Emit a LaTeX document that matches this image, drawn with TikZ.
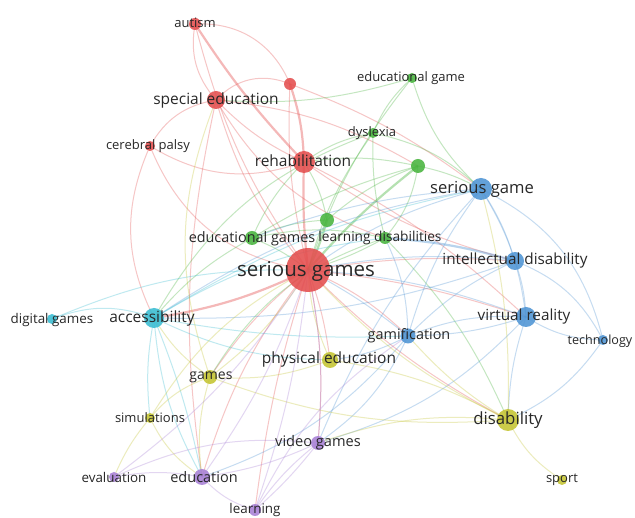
\documentclass[tikz,border=0pt]{standalone}
\usepackage{fontspec}
\setmainfont{Open Sans}
\definecolor{cred}{RGB}{228,78,78}
\definecolor{cgreen}{RGB}{72,180,62}
\definecolor{cblue}{RGB}{78,148,212}
\definecolor{ccyan}{RGB}{56,188,210}
\definecolor{cyel}{RGB}{196,196,50}
\definecolor{cpur}{RGB}{168,128,214}
\definecolor{labc}{RGB}{40,40,40}
\tikzset{
  lnk/.style={line width=1pt, draw opacity=0.32, draw=#1},
  thk/.style={line width=2.2pt, draw opacity=0.4, draw=#1},
  dot/.style={circle, inner sep=0pt, minimum size=#1, fill opacity=0.88},
  lab/.style={font=\fontsize{#1}{#1}\selectfont, text=labc, inner sep=0pt},
}
\begin{document}
\begin{tikzpicture}[x=1pt,y=-1pt]
\useasboundingbox (0,0) rectangle (635,518);
\fill[white] (0,0) rectangle (635,518);
% coordinates
\coordinate (sgs) at (308,270);
\coordinate (reh) at (304,162);
\coordinate (spe) at (216,100);
\coordinate (aut) at (195,24);
\coordinate (cer) at (150,146);
\coordinate (rx) at (290,84);
\coordinate (edg) at (412,78);
\coordinate (dys) at (373,133);
\coordinate (gx1) at (418,166);
\coordinate (gx2) at (327,220);
\coordinate (edgs) at (252,238);
\coordinate (ld) at (385,238);
\coordinate (sg) at (481,189);
\coordinate (id) at (515,261);
\coordinate (vr) at (526,317);
\coordinate (tec) at (603,340);
\coordinate (gam) at (408,336);
\coordinate (acc) at (154,318);
\coordinate (dg) at (52,319);
\coordinate (pe) at (330,360);
\coordinate (gms) at (210,377);
\coordinate (sim) at (150,418);
\coordinate (dis) at (508,420);
\coordinate (spo) at (562,480);
\coordinate (vg) at (318,443);
\coordinate (edu) at (202,477);
\coordinate (eva) at (114,477);
\coordinate (lea) at (255,510);
% red links
\draw[thk=cred] (sgs) to[bend left=4] (reh);
\draw[lnk=cred] (sgs) to[bend left=12] (spe);
\draw[lnk=cred] (sgs) to[bend left=10] (aut);
\draw[lnk=cred] (sgs) to[bend left=8] (rx);
\draw[lnk=cred] (sgs) to[bend left=30] (cer);
\draw[lnk=cred] (reh) to[bend left=10] (spe);
\draw[thk=cred] (reh) to[bend left=5] (aut);
\draw[thk=cred] (reh) to[bend right=8] (rx);
\draw[lnk=cred] (aut) to[bend right=25] (spe);
\draw[lnk=cred] (aut) to[bend left=35] (rx);
\draw[lnk=cred] (spe) to[bend left=35] (rx);
\draw[lnk=cred] (spe) to[bend right=25] (cer);
\draw[lnk=cred] (cer) to[bend right=25] (reh);
\draw[lnk=cred] (rx) to[bend left=8] (sg);
\draw[lnk=cred] (spe) to[bend right=20] (ld);
\draw[lnk=cred] (spe) to[bend right=10] (edu);
\draw[lnk=cred] (cer) to[bend right=25] (acc);
\draw[lnk=cred] (spe) to[bend left=12] (gx1);
\draw[lnk=cred] (sgs) to[bend left=10] (gam);
\draw[lnk=cred] (sgs) to[bend right=8] (dis);
\draw[lnk=cred] (sgs) to[bend left=6] (vr);
\draw[lnk=cred] (sgs) to[bend left=8] (vg);
\draw[lnk=cred] (sgs) to[bend right=10] (edu);
\draw[lnk=cred] (sgs) to[bend left=6] (pe);
\draw[lnk=cred] (sgs) to[bend right=8] (gms);
\draw[lnk=cred] (sgs) to[bend right=5] (lea);
\draw[thk=cred] (sgs) to[bend left=8] (acc);
\draw[lnk=cred] (sgs) to[bend left=6] (id);
\draw[lnk=cred] (reh) to[bend right=10] (id);
\draw[lnk=cred] (reh) to[bend left=8] (vr);
% green links
\draw[lnk=cgreen] (edg) to[bend right=12] (dys);
\draw[lnk=cgreen] (edg) to[bend left=10] (spe);
\draw[lnk=cgreen] (edg) to[bend right=15] (sg);
\draw[lnk=cgreen] (edg) to[bend right=10] (sgs);
\draw[lnk=cgreen] (dys) to[bend right=12] (reh);
\draw[lnk=cgreen] (dys) to[bend right=8] (ld);
\draw[lnk=cgreen] (dys) to[bend right=10] (sgs);
\draw[lnk=cgreen] (dys) to[bend left=15] (sg);
\draw[thk=cgreen] (gx1) to[bend right=5] (sgs);
\draw[lnk=cgreen] (gx1) to[bend right=10] (reh);
\draw[lnk=cgreen] (gx1) to[bend left=8] (sg);
\draw[lnk=cgreen] (gx1) to[bend left=15] (ld);
\draw[lnk=cgreen] (gx1) to[bend right=10] (gx2);
\draw[lnk=cgreen] (gx1) to[bend right=8] (edgs);
\draw[lnk=cgreen] (gx2) to[bend right=10] (reh);
\draw[thk=cgreen] (gx2) to[bend left=5] (sgs);
\draw[lnk=cgreen] (gx2) to[bend right=10] (edgs);
\draw[lnk=cgreen] (edgs) to[bend left=8] (sgs);
\draw[lnk=cgreen] (edgs) to[bend right=10] (acc);
\draw[lnk=cgreen] (edgs) to[bend left=12] (ld);
\draw[lnk=cgreen] (edgs) to[bend left=10] (reh);
\draw[lnk=cgreen] (ld) to[bend left=6] (sgs);
\draw[lnk=cgreen] (ld) to[bend left=10] (dis);
\draw[lnk=cgreen] (ld) to[bend right=20] (gms);
\draw[lnk=cgreen] (dys) to[bend right=20] (acc);
% blue links
\draw[lnk=cblue] (sg) to[bend left=8] (id);
\draw[lnk=cblue] (sg) to[bend left=12] (vr);
\draw[lnk=cblue] (sg) to[bend right=10] (gam);
\draw[lnk=cblue] (sg) to[bend left=25] (tec);
\draw[lnk=cblue] (sg) to[bend right=10] (sgs);
\draw[lnk=cblue] (sg) to[bend right=12] (acc);
\draw[lnk=cblue] (sg) to[bend right=8] (edgs);
\draw[lnk=cblue] (sg) to[bend right=10] (vg);
\draw[thk=cblue] (id) to[bend right=6] (ld);
\draw[lnk=cblue] (id) to[bend left=8] (vr);
\draw[lnk=cblue] (id) to[bend right=10] (gam);
\draw[lnk=cblue] (id) to[bend left=20] (tec);
\draw[lnk=cblue] (id) to[bend right=8] (sgs);
\draw[lnk=cblue] (id) to[bend left=10] (acc);
\draw[lnk=cblue] (vr) to[bend left=8] (gam);
\draw[lnk=cblue] (vr) to[bend right=12] (gam);
\draw[lnk=cblue] (vr) to[bend right=15] (tec);
\draw[lnk=cblue] (vr) to[bend right=8] (dis);
\draw[lnk=cblue] (vr) to[bend left=15] (vg);
\draw[lnk=cblue] (vr) to[bend right=8] (sgs);
\draw[lnk=cblue] (gam) to[bend right=5] (sgs);
\draw[lnk=cblue] (gam) to[bend left=15] (vg);
\draw[lnk=cblue] (gam) to[bend left=15] (edu);
\draw[lnk=cblue] (gam) to[bend left=10] (pe);
\draw[lnk=cblue] (gam) to[bend right=12] (ld);
\draw[lnk=cblue] (tec) to[bend left=15] (dis);
% cyan links
\draw[lnk=ccyan] (acc) to[bend right=20] (dg);
\draw[lnk=ccyan] (acc) to[bend left=10] (sg);
\draw[lnk=ccyan] (acc) to[bend right=12] (pe);
\draw[lnk=ccyan] (acc) to[bend right=12] (edu);
\draw[lnk=ccyan] (acc) to[bend left=5] (edu);
\draw[lnk=ccyan] (acc) to[bend right=8] (sim);
\draw[lnk=ccyan] (acc) to[bend right=6] (gam);
\draw[lnk=ccyan] (dg) to[bend left=12] (sgs);
\draw[lnk=ccyan] (acc) to[bend left=12] (ld);
% yellow links
\draw[lnk=cyel] (pe) to[bend left=12] (gms);
\draw[lnk=cyel] (pe) to[bend left=10] (dis);
\draw[lnk=cyel] (pe) to[bend left=10] (sgs);
\draw[lnk=cyel] (gms) to[bend right=15] (sim);
\draw[lnk=cyel] (gms) to[bend right=10] (sgs);
\draw[lnk=cyel] (gms) to[bend left=12] (acc);
\draw[lnk=cyel] (gms) to[bend left=20] (spe);
\draw[lnk=cyel] (gms) to[bend right=12] (edu);
\draw[lnk=cyel] (sim) to[bend right=8] (eva);
\draw[lnk=cyel] (sim) to[bend right=15] (edu);
\draw[lnk=cyel] (sim) to[bend left=15] (sgs);
\draw[lnk=cyel] (dis) to[bend right=15] (spo);
\draw[lnk=cyel] (dis) to[bend left=8] (gam);
\draw[lnk=cyel] (dis) to[bend left=10] (sgs);
\draw[lnk=cyel] (dis) to[bend right=12] (vg);
\draw[lnk=cyel] (dis) to[bend right=8] (sg);
\draw[lnk=cyel] (dis) to[bend left=12] (gms);
% purple links
\draw[lnk=cpur] (vg) to[bend left=8] (edu);
\draw[lnk=cpur] (vg) to[bend right=8] (lea);
\draw[lnk=cpur] (vg) to[bend left=5] (lea);
\draw[lnk=cpur] (vg) to[bend right=8] (sgs);
\draw[lnk=cpur] (vg) to[bend right=15] (eva);
\draw[lnk=cpur] (edu) to[bend right=15] (lea);
\draw[lnk=cpur] (edu) to[bend right=10] (eva);
\draw[lnk=cpur] (edu) to[bend right=8] (sgs);
\draw[lnk=cpur] (lea) to[bend right=6] (sgs);
\draw[lnk=cpur] (eva) to[bend right=10] (sgs);
\draw[lnk=cpur] (lea) to[bend left=15] (gam);
% circles
\node[dot=44pt, fill=cred] (sgsN) at (sgs) {};
\node[dot=22pt, fill=cred] (rehN) at (reh) {};
\node[dot=18pt, fill=cred] (speN) at (spe) {};
\node[dot=12pt, fill=cred] (autN) at (aut) {};
\node[dot=10pt, fill=cred] (cerN) at (cer) {};
\node[dot=12pt, fill=cred] (rxN) at (rx) {};
\node[dot=10pt, fill=cgreen] (edgN) at (edg) {};
\node[dot=10pt, fill=cgreen] (dysN) at (dys) {};
\node[dot=14pt, fill=cgreen] (gx1N) at (gx1) {};
\node[dot=14pt, fill=cgreen] (gx2N) at (gx2) {};
\node[dot=14pt, fill=cgreen] (edgsN) at (edgs) {};
\node[dot=12pt, fill=cgreen] (ldN) at (ld) {};
\node[dot=22pt, fill=cblue] (sgN) at (sg) {};
\node[dot=18pt, fill=cblue] (idN) at (id) {};
\node[dot=20pt, fill=cblue] (vrN) at (vr) {};
\node[dot=10pt, fill=cblue] (tecN) at (tec) {};
\node[dot=15pt, fill=cblue] (gamN) at (gam) {};
\node[dot=20pt, fill=ccyan] (accN) at (acc) {};
\node[dot=10pt, fill=ccyan] (dgN) at (dg) {};
\node[dot=16pt, fill=cyel] (peN) at (pe) {};
\node[dot=14pt, fill=cyel] (gmsN) at (gms) {};
\node[dot=10pt, fill=cyel] (simN) at (sim) {};
\node[dot=22pt, fill=cyel] (disN) at (dis) {};
\node[dot=10pt, fill=cyel] (spoN) at (spo) {};
\node[dot=14pt, fill=cpur] (vgN) at (vg) {};
\node[dot=16pt, fill=cpur] (eduN) at (edu) {};
\node[dot=10pt, fill=cpur] (evaN) at (eva) {};
\node[dot=12pt, fill=cpur] (leaN) at (lea) {};
% labels
\node[lab=20.5] (sgsL) at (306,271) {serious games};
\node[lab=15.5] (rehL) at (303,161) {rehabilitation};
\node[lab=15.5] (speL) at (216,100) {special education};
\node[lab=13] (autL) at (195,23) {autism};
\node[lab=13] (cerL) at (148,146) {cerebral palsy};
\node[lab=13] (edgL) at (411,78) {educational game};
\node[lab=13] (dysL) at (372,133) {dyslexia};
\node[lab=14.4] (edgsL) at (252,239) {educational games};
\node[lab=13.7] (ldL) at (380,238) {learning disabilities};
\node[lab=16.6] (sgL) at (482,189) {serious game};
\node[lab=15.3] (idL) at (515,261) {intellectual disability};
\node[lab=15.3] (vrL) at (524,317) {virtual reality};
\node[lab=12.6] (tecL) at (600,341) {technology};
\node[lab=14.4] (gamL) at (409,336) {gamification};
\node[lab=15.5] (accL) at (152,318) {accessibility};
\node[lab=13.4] (dgL) at (52,320) {digital games};
\node[lab=15.5] (peL) at (329,359) {physical education};
\node[lab=14] (gmsL) at (211,377) {games};
\node[lab=13] (simL) at (150,418) {simulations};
\node[lab=16.8] (disL) at (508,420) {disability};
\node[lab=13] (spoL) at (562,480) {sport};
\node[lab=14.6] (vgL) at (318,443) {video games};
\node[lab=14.5] (eduL) at (204,477) {education};
\node[lab=13.4] (evaL) at (114,477) {evaluation};
\node[lab=13.4] (leaL) at (255,510) {learning};
\end{tikzpicture}
\end{document}
